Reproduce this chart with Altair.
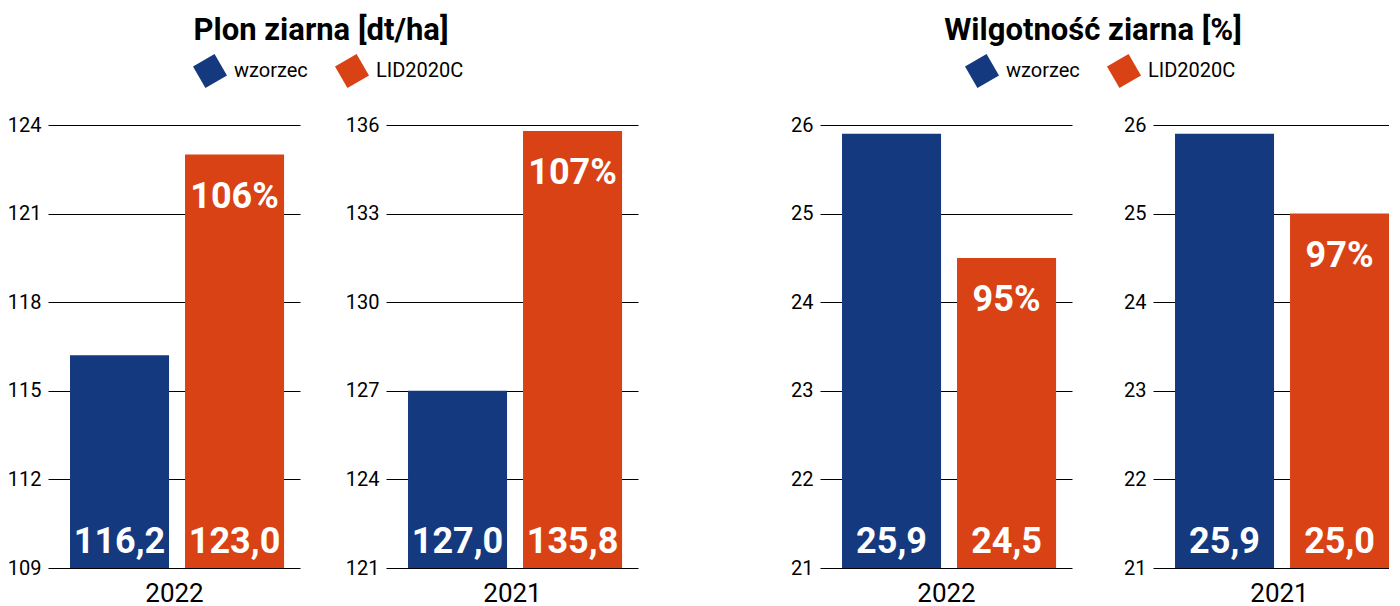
import altair as alt
import pandas as pd

# ---- data ----
series = ["wzorzec", "LID2020C"]
colors = ["#15397f", "#d94215"]
group_titles = ["Plon ziarna [dt/ha]", "Wilgotność ziarna [%]"]
panel_group = [0, 0, 1, 1]
years = ["2022", "2021", "2022", "2021"]
wzorzec_vals = [116.2, 127.0, 25.9, 25.9]
lid_vals = [123.0, 135.8, 24.5, 25.0]
pct_vals = [106, 107, 95, 97]
y_ticks = [
    [109, 112, 115, 118, 121, 124],
    [121, 124, 127, 130, 133, 136],
    [21, 22, 23, 24, 25, 26],
    [21, 22, 23, 24, 25, 26],
]

FONT = "Roboto"
W, H = 252, 443
W_LAST = 247  # the last panel is cut by the right edge of the picture
SQ = "M0.268,-1L1,0.268L-0.268,1L-1,-0.268Z"


def fmt(v):
    return f"{v:.1f}".replace(".", ",")


def panel(i):
    ticks = y_ticks[i]
    df = pd.DataFrame({
        "series": series,
        "value": [wzorzec_vals[i], lid_vals[i]],
        "label": [fmt(wzorzec_vals[i]), fmt(lid_vals[i])],
        "pct": ["", f"{pct_vals[i]}%"],
        "base": [ticks[0], ticks[0]],
    })
    if i == 3:
        xscale = alt.Scale(paddingInner=0.139, paddingOuter=0.165, align=0.58, range=[0, W])
        width = W_LAST
    else:
        xscale = alt.Scale(paddingInner=0.139, paddingOuter=0.165, align=0.58)
        width = W
    xaxis = alt.Axis(labels=False, ticks=False, domain=False, grid=False,
                     title=years[i], titleFont=FONT, titleFontSize=26,
                     titleFontWeight="normal", titleColor="#000", titlePadding=12)
    yscale = alt.Scale(domain=[ticks[0], ticks[-1]], zero=False, nice=False)
    yaxis = alt.Axis(values=ticks, title=None, ticks=False, domain=False,
                     labelFont=FONT, labelFontSize=20, labelColor="#000",
                     labelPadding=7, gridColor="#000", gridWidth=1.2, gridOpacity=1)
    show_legend = i in (0, 2)
    if show_legend:
        legend = alt.Legend(
            orient="none", legendX=145, legendY=-71, direction="horizontal",
            title=None, symbolType=SQ, symbolSize=1156, symbolStrokeWidth=0,
            symbolOpacity=1, labelFont=FONT, labelFontSize=20, labelColor="#000",
            labelOffset=7, columnPadding=27, padding=0, labelLimit=300,
        )
    else:
        legend = None
    color = alt.Color("series:N", sort=series,
                      scale=alt.Scale(domain=series, range=colors), legend=legend)

    bars = alt.Chart(df).mark_bar().encode(
        x=alt.X("series:N", sort=series, scale=xscale, axis=xaxis),
        y=alt.Y("value:Q", scale=yscale, axis=yaxis),
        y2=alt.Y2("base:Q"),
        color=color,
    )
    vals = alt.Chart(df).mark_text(
        font=FONT, fontSize=36, fontWeight="bold", color="white",
        baseline="alphabetic", dy=-15,
    ).encode(
        x=alt.X("series:N", sort=series, scale=xscale, axis=xaxis),
        y=alt.Y("base:Q", scale=yscale, axis=yaxis),
        text="label:N",
    )
    pcts = alt.Chart(df).mark_text(
        font=FONT, fontSize=36, fontWeight="bold", color="white",
        baseline="alphabetic", dy=53,
    ).encode(
        x=alt.X("series:N", sort=series, scale=xscale, axis=xaxis),
        y=alt.Y("value:Q", scale=yscale, axis=yaxis),
        text="pct:N",
    )
    ch = alt.layer(bars, vals, pcts).properties(width=width, height=H)
    if show_legend:
        ch = ch.properties(title=alt.TitleParams(
            text=group_titles[panel_group[i]], font=FONT, fontSize=31,
            fontWeight="bold", color="#000", anchor="middle", frame="group",
            dx=147, dy=32, offset=15, baseline="alphabetic",
        ))
    return ch


def spacer(w):
    return alt.Chart(pd.DataFrame({"s": [0]})).mark_point(opacity=0).encode(
        x=alt.value(0), y=alt.value(0)
    ).properties(width=w, height=H)


chart = alt.hconcat(
    panel(0), spacer(6), panel(1), spacer(102), panel(2), spacer(1), panel(3),
    spacing=40, bounds="flush",
).resolve_scale(
    x="independent", y="independent", color="independent"
).properties(
    padding={"left": -1, "top": 7, "right": -16, "bottom": 0},
    background="white",
).configure_view(stroke=None)

chart.save("out.html", embed_options={"renderer": "svg", "actions": False})
